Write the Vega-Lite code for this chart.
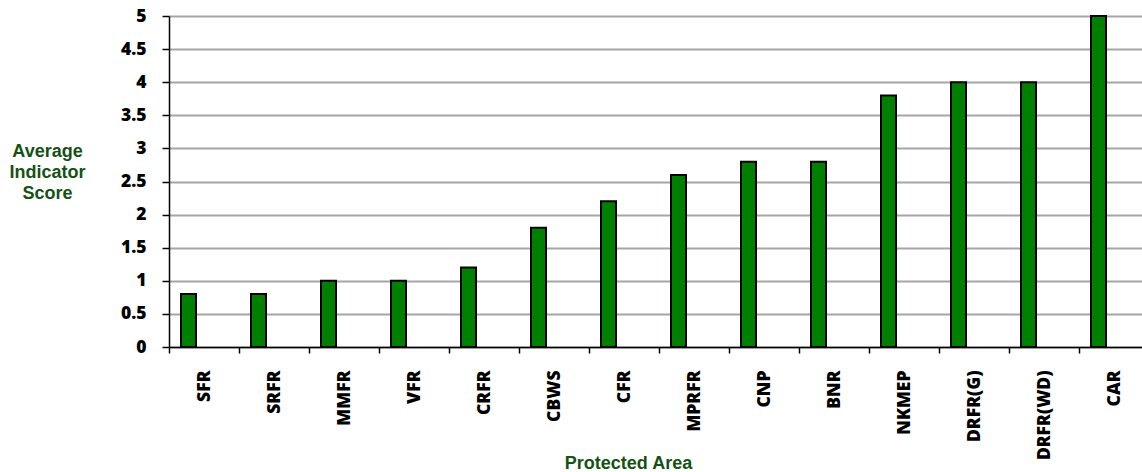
{
  "$schema": "https://vega.github.io/schema/vega-lite/v6.json",
  "autosize": "none",
  "width": 973,
  "height": 331,
  "padding": {"left": 169, "top": 16, "right": 0, "bottom": 125},
  "background": "white",
  "data": {
    "values": [
      {"area": "SFR", "score": 0.8},
      {"area": "SRFR", "score": 0.8},
      {"area": "MMFR", "score": 1.0},
      {"area": "VFR", "score": 1.0},
      {"area": "CRFR", "score": 1.2},
      {"area": "CBWS", "score": 1.8},
      {"area": "CFR", "score": 2.2},
      {"area": "MPRFR", "score": 2.6},
      {"area": "CNP", "score": 2.8},
      {"area": "BNR", "score": 2.8},
      {"area": "NKMEP", "score": 3.8},
      {"area": "DRFR(G)", "score": 4.0},
      {"area": "DRFR(WD)", "score": 4.0},
      {"area": "CAR", "score": 5.0}
    ]
  },
  "config": {
    "view": {"stroke": null},
    "axis": {
      "labelFont": "Open Sans",
      "labelFontWeight": 800,
      "labelFontSize": 17.5,
      "labelColor": "black",
      "titleFont": "Liberation Sans",
      "titleFontWeight": "bold",
      "titleFontSize": 18,
      "titleColor": "#145214",
      "domainColor": "black",
      "domainWidth": 1.5,
      "tickColor": "black",
      "tickWidth": 1.5
    }
  },
  "mark": {
    "type": "bar",
    "color": "#008000",
    "stroke": "black",
    "strokeWidth": 2,
    "width": 15,
    "xOffset": -15.5
  },
  "encoding": {
    "x": {
      "field": "area",
      "type": "nominal",
      "sort": null,
      "scale": {"range": [0, 980], "paddingInner": 0, "paddingOuter": 0},
      "axis": {
        "title": "Protected Area",
        "labelAngle": -90,
        "labelAlign": "right",
        "labelBaseline": "middle",
        "labelPadding": 17,
        "tickSize": 6,
        "tickBand": "extent",
        "titleX": 459,
        "titleY": 121,
        "titleBaseline": "alphabetic",
        "titleAnchor": "start",
        "titleAlign": "center"
      }
    },
    "y": {
      "field": "score",
      "type": "quantitative",
      "scale": {"domain": [0, 5], "nice": false},
      "axis": {
        "title": ["Average", "Indicator", "Score"],
        "titleAngle": 0,
        "titleAlign": "center",
        "titleBaseline": "middle",
        "titleLineHeight": 21,
        "titleX": -122,
        "titleY": 135,
        "values": [0, 0.5, 1, 1.5, 2, 2.5, 3, 3.5, 4, 4.5, 5],
        "labelExpr": "'' + datum.value",
        "tickSize": 7,
        "labelPadding": 16,
        "grid": true,
        "gridColor": "#a6a6a6",
        "gridWidth": 2
      }
    }
  }
}
